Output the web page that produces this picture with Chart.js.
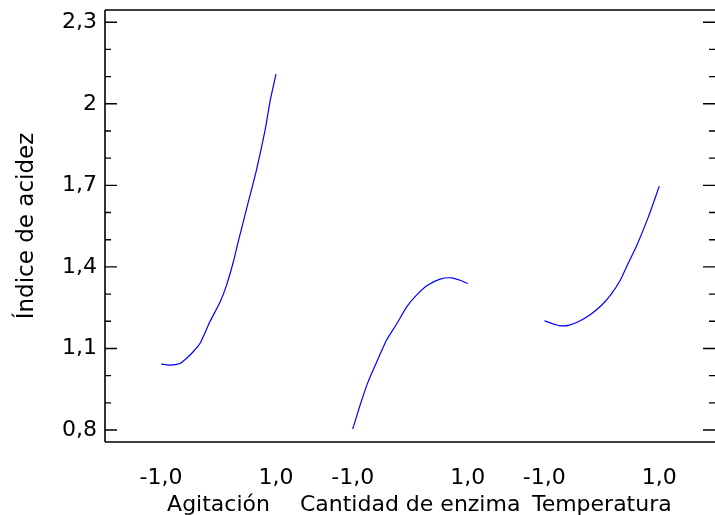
<!DOCTYPE html>
<html>
<head>
<meta charset="utf-8">
<script src="https://cdn.jsdelivr.net/npm/chart.js@4"></script>
<style>
html,body{margin:0;padding:0;background:#fff;}
#wrap{width:715px;height:515px;position:relative;}
</style>
</head>
<body>
<div id="wrap"><canvas id="c" width="715" height="515"></canvas></div>
<script>
// ---- data ----
const factors = ['Agitación', 'Cantidad de enzima', 'Temperatura'];

const agitacionX = [-1, -0.84, -0.67, -0.55, -0.44, -0.32, -0.15, 0.03, 0.14, 0.26, 0.34, 0.49, 0.66, 0.81, 0.90, 1.0];
const agitacionY = [1.043, 1.039, 1.045, 1.065, 1.088, 1.119, 1.198, 1.272, 1.333, 1.42, 1.49, 1.615, 1.756, 1.903, 2.013, 2.109];

const enzimaX = [-1, -0.96, -0.87, -0.73, -0.58, -0.41, -0.23, -0.06, 0.11, 0.29, 0.52, 0.72, 0.87, 1.0];
const enzimaY = [0.804, 0.83, 0.892, 0.978, 1.051, 1.131, 1.192, 1.253, 1.296, 1.331, 1.355, 1.360, 1.351, 1.339];

const temperaturaX = [-1, -0.87, -0.73, -0.58, -0.41, -0.21, 0.0, 0.17, 0.32, 0.46, 0.61, 0.81, 1.0];
const temperaturaY = [1.202, 1.192, 1.184, 1.185, 1.198, 1.223, 1.260, 1.302, 1.351, 1.414, 1.480, 1.584, 1.697];

const xTickValues = [-1, 1];
const xTickLabels = ['-1,0', '1,0'];
const yTickValues = [0.8, 1.1, 1.4, 1.7, 2.0, 2.3];
const yTickLabels = ['0,8', '1,1', '1,4', '1,7', '2', '2,3'];
const yTitle = 'Índice de acidez';

// ---- build chart structures ----
const seriesX = [agitacionX, enzimaX, temperaturaX];
const seriesY = [agitacionY, enzimaY, temperaturaY];
const GAP = 4 / 3;                 // spacing between factor panels (axis units)
const offsets = factors.map((_, i) => i * (2 + GAP));

const datasets = factors.map((name, i) => ({
  label: name,
  data: seriesX[i].map((x, k) => ({ x: offsets[i] + x, y: seriesY[i][k] })),
  borderColor: '#0000ff',
  borderWidth: 1.2,
  pointRadius: 0,
  tension: 0.2,
  fill: false
}));

const xTicks = [];
factors.forEach((name, i) => {
  xTicks.push({ value: offsets[i] + xTickValues[0], label: xTickLabels[0] });
  xTicks.push({ value: offsets[i], label: ['', name] });
  xTicks.push({ value: offsets[i] + xTickValues[1], label: xTickLabels[1] });
});

const FONT = 'DejaVu Sans';

const framePlugin = {
  id: 'frame',
  afterDatasetsDraw(chart) {
    const { ctx, chartArea: { left, right, top, bottom }, scales: { y } } = chart;
    ctx.save();
    ctx.strokeStyle = '#000';
    ctx.lineWidth = 1.6;
    ctx.beginPath();
    ctx.moveTo(left, top); ctx.lineTo(right, top);
    ctx.moveTo(left, top); ctx.lineTo(left, bottom);
    ctx.moveTo(left, bottom); ctx.lineTo(right, bottom);
    ctx.stroke();
    // major and minor tick marks (inward), both sides
    ctx.lineWidth = 1.4;
    ctx.beginPath();
    for (let m = 0; m < yTickValues.length; m++) {
      const v = yTickValues[m];
      const p = y.getPixelForValue(v);
      ctx.moveTo(left, p); ctx.lineTo(left + 12, p);
      ctx.moveTo(right, p); ctx.lineTo(right - 12, p);
      if (m < yTickValues.length - 1) {
        const step = (yTickValues[m + 1] - v) / 3;
        for (let k = 1; k < 3; k++) {
          const q = y.getPixelForValue(v + k * step);
          ctx.moveTo(left, q); ctx.lineTo(left + 6, q);
          ctx.moveTo(right, q); ctx.lineTo(right - 6, q);
        }
      }
    }
    ctx.stroke();
    ctx.restore();
  }
};

new Chart(document.getElementById('c'), {
  type: 'line',
  data: { datasets },
  options: {
    responsive: false,
    animation: false,
    devicePixelRatio: 1,
    layout: { padding: { top: 10, left: 0, right: 0, bottom: 0 } },
    plugins: { legend: { display: false }, tooltip: { enabled: false } },
    scales: {
      x: {
        type: 'linear',
        min: -1.974,
        max: 8.635,
        grid: { display: false, drawTicks: false },
        border: { display: false },
        afterBuildTicks: (s) => { s.ticks = xTicks.map(t => ({ value: t.value })); },
        afterFit: (s) => { s.height = 73; s.paddingLeft = 0; s.paddingRight = 0; },
        ticks: {
          autoSkip: false,
          maxRotation: 0,
          minRotation: 0,
          padding: 23,
          color: '#000',
          font: { family: FONT, size: 22, lineHeight: '27px' },
          callback: (v, i) => xTicks[i].label
        }
      },
      y: {
        type: 'linear',
        min: 0.756,
        max: 2.345,
        grid: { display: false, drawTicks: false },
        border: { display: false },
        afterBuildTicks: (s) => { s.ticks = yTickValues.map(v => ({ value: v })); },
        afterFit: (s) => { s.width = 105; s.paddingTop = 0; s.paddingBottom = 0; },
        ticks: {
          padding: 8,
          color: '#000',
          font: { family: FONT, size: 22 },
          callback: (v, i) => yTickLabels[i]
        },
        title: {
          display: true,
          text: yTitle,
          color: '#000',
          font: { family: FONT, size: 23 },
          padding: { top: 13, bottom: 0 }
        }
      }
    }
  },
  plugins: [framePlugin]
});
</script>
</body>
</html>
